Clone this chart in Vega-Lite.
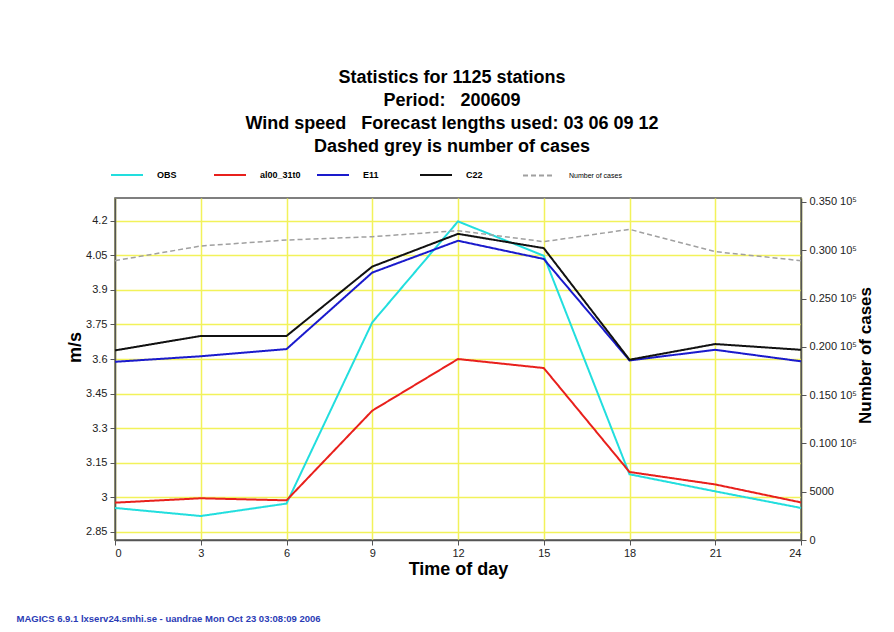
{
  "$schema": "https://vega.github.io/schema/vega-lite/v6.json",
  "width": 686,
  "height": 342,
  "autosize": "none",
  "padding": {"left": 115, "top": 198, "right": 93, "bottom": 92},
  "background": "white",
  "config": {
    "view": {"stroke": "#555555", "strokeWidth": 1.5},
    "font": "Liberation Sans"
  },
  "title": {
    "text": ["Statistics for 1125 stations", "Period:\u00a0\u00a0\u00a0200609", "Wind speed\u00a0\u00a0\u00a0Forecast lengths used: 03 06 09 12", "Dashed grey is number of cases"],
    "fontSize": 18,
    "fontWeight": "bold",
    "lineHeight": 23,
    "anchor": "middle",
    "offset": 2,
    "dx": -6,
    "color": "black"
  },
  "datasets": {
    "wind": [
      {"hour": 0, "series": "OBS", "value": 2.954},
      {"hour": 3, "series": "OBS", "value": 2.919},
      {"hour": 6, "series": "OBS", "value": 2.973},
      {"hour": 9, "series": "OBS", "value": 3.759},
      {"hour": 12, "series": "OBS", "value": 4.197},
      {"hour": 15, "series": "OBS", "value": 4.048},
      {"hour": 18, "series": "OBS", "value": 3.10},
      {"hour": 21, "series": "OBS", "value": 3.026},
      {"hour": 24, "series": "OBS", "value": 2.954},
      {"hour": 0, "series": "al00_31t0", "value": 2.977},
      {"hour": 3, "series": "al00_31t0", "value": 2.996},
      {"hour": 6, "series": "al00_31t0", "value": 2.987},
      {"hour": 9, "series": "al00_31t0", "value": 3.376},
      {"hour": 12, "series": "al00_31t0", "value": 3.60},
      {"hour": 15, "series": "al00_31t0", "value": 3.561},
      {"hour": 18, "series": "al00_31t0", "value": 3.11},
      {"hour": 21, "series": "al00_31t0", "value": 3.056},
      {"hour": 24, "series": "al00_31t0", "value": 2.978},
      {"hour": 0, "series": "E11", "value": 3.588},
      {"hour": 3, "series": "E11", "value": 3.612},
      {"hour": 6, "series": "E11", "value": 3.643},
      {"hour": 9, "series": "E11", "value": 3.975},
      {"hour": 12, "series": "E11", "value": 4.113},
      {"hour": 15, "series": "E11", "value": 4.034},
      {"hour": 18, "series": "E11", "value": 3.594},
      {"hour": 21, "series": "E11", "value": 3.64},
      {"hour": 24, "series": "E11", "value": 3.59},
      {"hour": 0, "series": "C22", "value": 3.6375},
      {"hour": 3, "series": "C22", "value": 3.70},
      {"hour": 6, "series": "C22", "value": 3.70},
      {"hour": 9, "series": "C22", "value": 4.001},
      {"hour": 12, "series": "C22", "value": 4.143},
      {"hour": 15, "series": "C22", "value": 4.081},
      {"hour": 18, "series": "C22", "value": 3.597},
      {"hour": 21, "series": "C22", "value": 3.665},
      {"hour": 24, "series": "C22", "value": 3.64}
    ],
    "cases": [
      {"hour": 0, "series": "Number of cases", "cases": 28923},
      {"hour": 3, "series": "Number of cases", "cases": 30444},
      {"hour": 6, "series": "Number of cases", "cases": 31065},
      {"hour": 9, "series": "Number of cases", "cases": 31410},
      {"hour": 12, "series": "Number of cases", "cases": 32031},
      {"hour": 15, "series": "Number of cases", "cases": 30893},
      {"hour": 18, "series": "Number of cases", "cases": 32169},
      {"hour": 21, "series": "Number of cases", "cases": 29857},
      {"hour": 24, "series": "Number of cases", "cases": 28923}
    ]
  },
  "layer": [
    {
      "data": {"name": "wind"},
      "mark": {"type": "line", "strokeWidth": 2},
      "encoding": {
        "x": {
          "field": "hour", "type": "quantitative",
          "scale": {"domain": [0, 24], "nice": false, "zero": false},
          "axis": {
            "values": [0, 3, 6, 9, 12, 15, 18, 21, 24], "format": "d",
            "grid": true, "gridColor": "#f2f25a", "gridWidth": 1.5,
            "domainColor": "#555555", "domainWidth": 1.5, "tickColor": "#555555", "tickSize": 5,
            "labelFontSize": 11, "labelColor": "#222222", "labelPadding": 2,
            "title": "Time of day", "titleFontSize": 18, "titleFontWeight": "bold", "titleColor": "black",
            "titleY": 29, "titleBaseline": "middle"
          }
        },
        "y": {
          "field": "value", "type": "quantitative",
          "scale": {"domain": [2.815, 4.2985], "nice": false, "zero": false},
          "axis": {
            "values": [2.85, 3, 3.15, 3.3, 3.45, 3.6, 3.75, 3.9, 4.05, 4.2],
            "labelExpr": "'' + datum.value",
            "grid": true, "gridColor": "#f2f25a", "gridWidth": 1.5,
            "domainColor": "#555555", "domainWidth": 1.5, "tickColor": "#555555", "tickSize": 5,
            "labelFontSize": 11, "labelColor": "#222222", "labelPadding": 3,
            "title": "m/s", "titleFontSize": 18, "titleFontWeight": "bold", "titleColor": "black",
            "titleX": -40, "titleY": 149, "titleAlign": "center", "titleBaseline": "middle", "titleAngle": -90
          }
        },
        "color": {
          "field": "series", "type": "nominal",
          "scale": {"domain": ["OBS", "al00_31t0", "E11", "C22", "Number of cases"], "range": ["#22dede", "#e8201c", "#1a1acc", "#111111", "#a0a0a0"]},
          "legend": {
            "orient": "none", "legendX": -5, "legendY": -40, "direction": "horizontal", "columns": 5,
            "symbolType": "stroke", "symbolSize": 1024, "symbolStrokeWidth": 2,
            "labelFontSize": 9, "labelFontWeight": "bold", "labelColor": "black", "labelOffset": 13,
            "columnPadding": 0, "gridAlign": "all", "title": null,
            "encode": {"labels": {"update": {
              "fontSize": {"signal": "datum.label === 'Number of cases' ? 7 : 9"},
              "fontWeight": {"signal": "datum.label === 'Number of cases' ? 'normal' : 'bold'"}
            }}}
          }
        },
        "strokeDash": {
          "field": "series", "type": "nominal",
          "scale": {"domain": ["OBS", "al00_31t0", "E11", "C22", "Number of cases"], "range": [[1, 0], [1, 0], [1, 0], [1, 0], [5, 3]]},
          "legend": {
            "orient": "none", "legendX": -5, "legendY": -40, "direction": "horizontal", "columns": 5,
            "symbolType": "stroke", "symbolSize": 1024, "symbolStrokeWidth": 2,
            "labelFontSize": 9, "labelFontWeight": "bold", "labelColor": "black", "labelOffset": 13,
            "columnPadding": 0, "gridAlign": "all", "title": null
          }
        }
      }
    },
    {
      "data": {"name": "cases"},
      "mark": {"type": "line", "strokeWidth": 1.5},
      "encoding": {
        "x": {
          "field": "hour", "type": "quantitative",
          "axis": {
            "orient": "bottom", "domain": false, "ticks": false, "labels": false, "grid": false,
            "title": "MAGICS 6.9.1 lxserv24.smhi.se - uandrae Mon Oct 23 03:08:09 2006",
            "titleColor": "#2a3bb5", "titleFontSize": 9.5, "titleFontWeight": "bold",
            "titleAnchor": "start", "titleAlign": "left", "titleX": -99, "titleY": 78, "titleBaseline": "middle"
          }
        },
        "y": {
          "field": "cases", "type": "quantitative",
          "scale": {"domain": [0, 35414], "nice": false, "zero": false},
          "axis": {
            "orient": "right",
            "values": [0, 5000, 10000, 15000, 20000, 25000, 30000, 35000],
            "labelExpr": "datum.value == 0 ? '0' : datum.value == 5000 ? '5000' : format(datum.value / 100000, '.3f') + ' 10⁵'",
            "grid": false,
            "domainColor": "#555555", "domainWidth": 1.5, "tickColor": "#555555", "tickSize": 5,
            "labelFontSize": 11, "labelColor": "#222222", "labelPadding": 3,
            "title": "Number of cases", "titleFontSize": 17, "titleFontWeight": "bold", "titleColor": "black",
            "titleX": 64, "titleY": 157, "titleAlign": "center", "titleBaseline": "middle", "titleAngle": -90
          }
        },
        "color": {"field": "series", "type": "nominal"},
        "strokeDash": {"field": "series", "type": "nominal"}
      }
    }
  ],
  "resolve": {"scale": {"y": "independent"}, "axis": {"x": "independent"}}
}
